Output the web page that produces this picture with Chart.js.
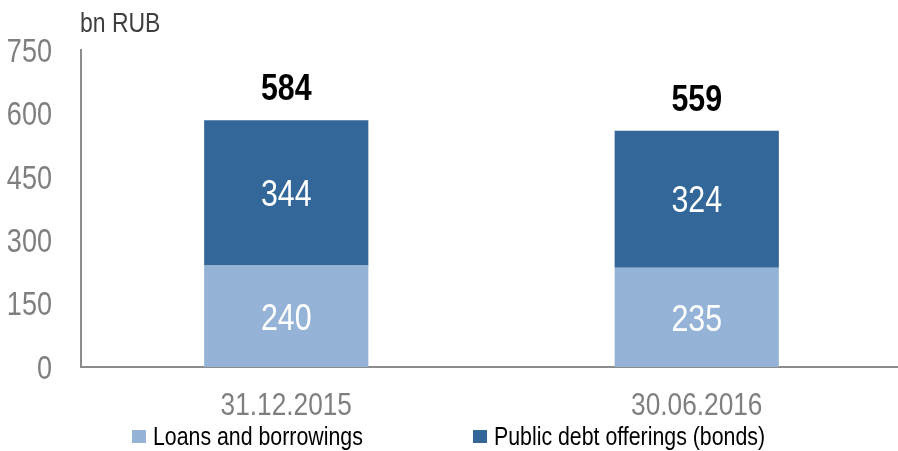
<!DOCTYPE html>
<html>
<head>
<meta charset="utf-8">
<script src="https://cdn.jsdelivr.net/npm/chart.js@4"></script>
<style>
  html, body { margin: 0; padding: 0; background: #fff; overflow: hidden; }
  #wrap { width: 902px; height: 451px; position: relative; }
</style>
</head>
<body>
<div id="wrap"><canvas id="debtChart"></canvas></div>
<script>
// Debt structure, bn RUB
const periods = ['31.12.2015', '30.06.2016'];
const loans = [240, 235];
const bonds = [344, 324];
const totals = [584, 559];
const yTicks = [0, 150, 300, 450, 600, 750];
const unitLabel = 'bn RUB';
const seriesNames = ['Loans and borrowings', 'Public debt offerings (bonds)'];

const FONT = "'Liberation Sans', Arial, sans-serif";
const NARROW = 0.82; // squeeze regular sans to a narrow face
const LIGHT = '#95b3d7';
const DARK = '#336699';
const GREY = '#7f7f7f';

function narrowText(ctx, text, x, y, size, opts = {}) {
    ctx.save();
    ctx.font = (opts.bold ? 'bold ' : '') + size + 'px ' + FONT;
    ctx.fillStyle = opts.color || '#000';
    ctx.textBaseline = 'alphabetic';
    const w = ctx.measureText(text).width * NARROW;
    let left = x;
    if (opts.align === 'center') left = x - w / 2;
    if (opts.align === 'right') left = x - w;
    ctx.translate(left, y);
    ctx.scale(NARROW, 1);
    ctx.textAlign = 'left';
    ctx.fillText(text, 0, 0);
    ctx.restore();
}

// digits sit at mid when baseline is mid + cap/2
const capShift = (size) => size * 0.358;

const overlay = {
    id: 'overlay',
    afterDatasetsDraw(chart) {
        const ctx = chart.ctx;
        const x = chart.scales.x;
        const y = chart.scales.y;
        const area = chart.chartArea;

        // value labels inside each segment
        chart.data.datasets.forEach((ds, di) => {
            chart.getDatasetMeta(di).data.forEach((bar, i) => {
                const mid = (bar.y + bar.base) / 2;
                narrowText(ctx, String(ds.data[i]), bar.x, mid + capShift(37), 37,
                    { color: '#fff', align: 'center' });
            });
        });

        // stack totals above the bars
        const top = chart.getDatasetMeta(1).data;
        totals.forEach((t, i) => {
            narrowText(ctx, String(t), top[i].x, top[i].y - 33 + capShift(37), 37,
                { bold: true, align: 'center' });
        });

        // value axis labels
        y.ticks.forEach((tk) => {
            narrowText(ctx, String(tk.value), area.left - 29, y.getPixelForValue(tk.value) + capShift(33), 33,
                { color: GREY, align: 'right' });
        });

        // unit caption
        narrowText(ctx, unitLabel, area.left - 1, 32, 28, { color: '#3f3f3f' });

        // category labels
        periods.forEach((p, i) => {
            narrowText(ctx, p, x.getPixelForValue(i), area.bottom + 37 + capShift(32), 32,
                { color: GREY, align: 'center' });
        });

        // legend
        const legendX = [132, 473];
        chart.data.datasets.forEach((ds, di) => {
            ctx.fillStyle = ds.backgroundColor;
            ctx.fillRect(legendX[di], 430, 14, 13);
            narrowText(ctx, ds.label, legendX[di] + 21, 445, 26);
        });
    }
};

new Chart(document.getElementById('debtChart'), {
    type: 'bar',
    data: {
        labels: periods,
        datasets: [
            { label: seriesNames[0], data: loans, backgroundColor: LIGHT },
            { label: seriesNames[1], data: bonds, backgroundColor: DARK }
        ]
    },
    options: {
        responsive: true,
        maintainAspectRatio: false,
        animation: false,
        layout: { padding: { top: 50, right: 0, bottom: 84, left: 0 } },
        plugins: {
            legend: { display: false },
            tooltip: { enabled: false }
        },
        datasets: { bar: { barPercentage: 0.4, categoryPercentage: 1 } },
        scales: {
            x: {
                stacked: true,
                afterFit: (s) => { s.height = 0; },
                grid: { display: false, drawTicks: false },
                border: { display: true, color: '#8c8c8c', width: 2 },
                ticks: { display: false }
            },
            y: {
                stacked: true,
                min: 0,
                max: 750,
                afterBuildTicks: (s) => { s.ticks = yTicks.map(v => ({ value: v })); },
                afterFit: (s) => { s.width = 81; },
                grid: { display: false, drawTicks: false },
                border: { display: true, color: '#8c8c8c', width: 2 },
                ticks: { display: false }
            }
        }
    },
    plugins: [overlay]
});
</script>
</body>
</html>
